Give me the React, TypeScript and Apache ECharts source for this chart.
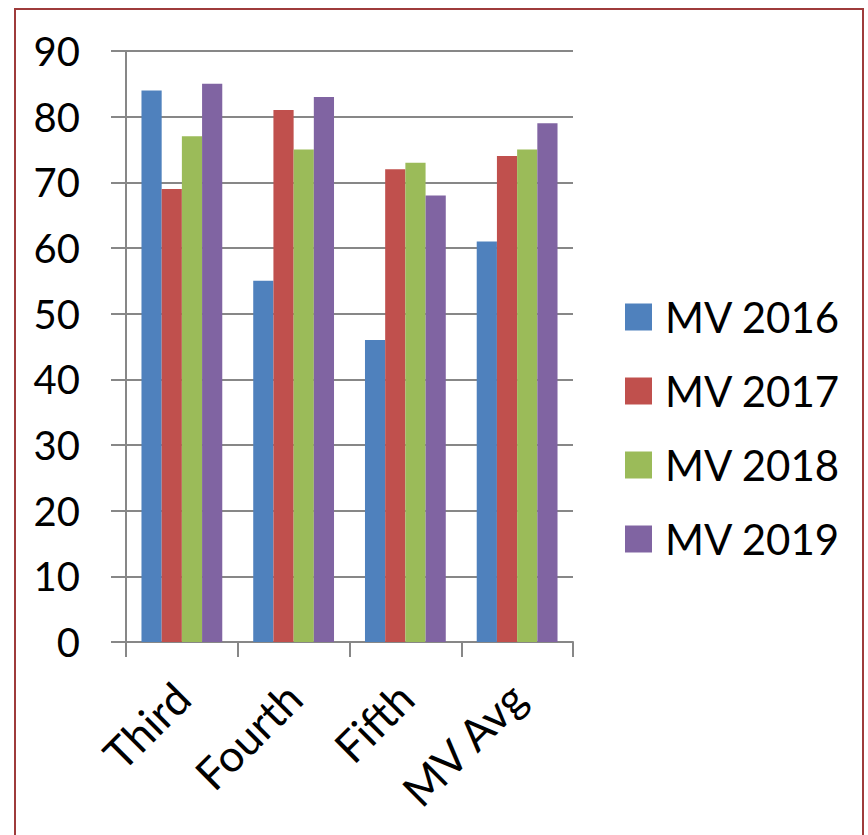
import React, { useEffect, useRef } from "react";
import * as echarts from "echarts";

const categories = ["Third", "Fourth", "Fifth", "MV Avg"];
const seriesNames = ["MV 2016", "MV 2017", "MV 2018", "MV 2019"];
const mv2016 = [84, 55, 46, 61];
const mv2017 = [69, 81, 72, 74];
const mv2018 = [77, 75, 73, 75];
const mv2019 = [85, 83, 68, 79];
const colors = ["#4F81BD", "#C0504D", "#9BBB59", "#8064A2"];

export default function App() {
  const ref = useRef<HTMLDivElement>(null);
  useEffect(() => {
    if (!ref.current) return;
    const chart = echarts.init(ref.current, null, { renderer: "svg" });
    const values = [mv2016, mv2017, mv2018, mv2019];
    chart.setOption({
      animation: false,
      backgroundColor: "#ffffff",
      textStyle: { fontFamily: "Lato" },
      grid: { left: 126, right: 295, top: 51, bottom: 193, containLabel: false },
      legend: {
        orient: "vertical",
        left: 620,
        top: 291,
        itemWidth: 27,
        itemHeight: 27,
        itemGap: 32,
        icon: "rect",
        data: seriesNames,
        textStyle: {
          fontFamily: "Lato",
          fontSize: 42,
          lineHeight: 42,
          color: "#000",
          padding: [0, 0, 0, 8],
        },
      },
      xAxis: {
        type: "category",
        data: categories,
        axisLine: { show: true, lineStyle: { color: "#878787", width: 2 } },
        axisTick: { show: true, length: 15, lineStyle: { color: "#878787", width: 2 } },
        axisLabel: {
          interval: 0,
          rotate: 45,
          margin: 48,
          fontFamily: "Lato",
          fontSize: 44,
          color: "#000",
        },
      },
      yAxis: {
        type: "value",
        min: 0,
        max: 90,
        interval: 10,
        axisLine: { show: true, lineStyle: { color: "#878787", width: 2 } },
        axisTick: { show: true, length: 15, lineStyle: { color: "#878787", width: 2 } },
        splitLine: { show: true, lineStyle: { color: "#878787", width: 2 } },
        axisLabel: {
          margin: 46,
          fontFamily: "Lato",
          fontSize: 40,
          color: "#000",
        },
      },
      series: seriesNames.map((name, i) => ({
        name,
        type: "bar",
        data: values[i],
        barGap: "0%",
        barCategoryGap: "27.7%",
        itemStyle: { color: colors[i] },
      })),
      graphic: [
        {
          type: "rect",
          shape: { x: 15, y: 9, width: 848, height: 840 },
          style: { fill: "none", stroke: "#9E3B3B", lineWidth: 2 },
          z: 100,
        },
      ],
    });
    return () => chart.dispose();
  }, []);
  return (
    <div
      ref={ref}
      style={{ position: "absolute", left: 0, top: 0, width: 868, height: 835 }}
    />
  );
}
